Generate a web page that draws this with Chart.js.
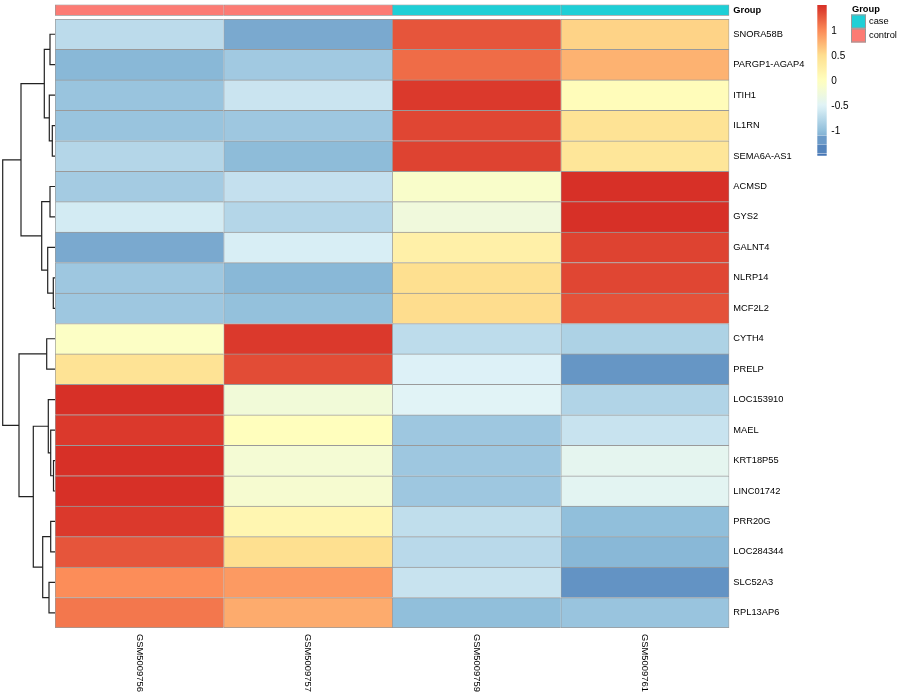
<!DOCTYPE html>
<html><head><meta charset="utf-8">
<script src="https://cdn.jsdelivr.net/npm/chart.js@4/dist/chart.umd.min.js"></script>
<style>
html,body{margin:0;padding:0;background:#fff;}
#wrap{position:relative;width:900px;height:700px;background:#fff;}
canvas{position:absolute;left:0;top:0;}
</style></head><body>
<div id="wrap">
<canvas id="dendro" width="900" height="700"></canvas>
<canvas id="heat" width="900" height="700"></canvas>
<canvas id="annot" width="900" height="700"></canvas>
<canvas id="legend" width="900" height="700"></canvas>
</div>
<script>
// ---------- DATA ----------
const genes = ['SNORA58B','PARGP1-AGAP4','ITIH1','IL1RN','SEMA6A-AS1','ACMSD','GYS2','GALNT4','NLRP14','MCF2L2',
  'CYTH4','PRELP','LOC153910','MAEL','KRT18P55','LINC01742','PRR20G','LOC284344','SLC52A3','RPL13AP6'];
const samples = ['GSM5009756','GSM5009757','GSM5009759','GSM5009761'];
const sampleGroup = ['control','control','case','case'];
const groupLevels = ['case','control'];
const groupColors = ['#1ECFD6','#FC7B74'];

// row z-scores, one array per sample (same order as genes)
const GSM5009756 = [-0.73,-1.05,-0.95,-0.95,-0.78,-0.88,-0.58,-1.15,-0.92,-0.92,-0.05,0.45,1.5,1.45,1.5,1.5,1.45,1.3,1.0,1.12];
const GSM5009757 = [-1.15,-0.9,-0.64,-0.92,-1.02,-0.68,-0.78,-0.55,-1.05,-0.98,1.45,1.35,-0.22,0.02,-0.18,-0.15,0.15,0.5,0.92,0.82];
const GSM5009759 = [1.3,1.18,1.45,1.38,1.4,-0.1,-0.25,0.25,0.5,0.52,-0.72,-0.52,-0.48,-0.92,-0.92,-0.92,-0.7,-0.75,-0.65,-1.0];
const GSM5009761 = [0.58,0.78,0.05,0.45,0.4,1.5,1.5,1.4,1.38,1.32,-0.82,-1.28,-0.8,-0.65,-0.42,-0.45,-1.0,-1.05,-1.3,-0.95];
const sampleValues = [GSM5009756, GSM5009757, GSM5009759, GSM5009761];

// row dendrogram, R hclust style: negative = leaf (1-based row), positive = earlier merge
const mergeLeft   = [-1,-4,-3, 1,-6,-9,-8, 5, 4,-11,-15,-14,-13,-17,-19,14,13,10, 9];
const mergeRight  = [-2,-5, 2, 3,-7,-10, 6, 7, 8,-12,-16, 11, 12,-18,-20,15,16,17,18];
const mergeHeight = [5,2.7,5.7,10.7,5,1.7,7.3,13.3,34,8.3,1.5,4.3,6.7,4.3,6,12.3,21.7,36,52.3];

const legendTicks = [-1,-0.5,0,0.5,1];

// ---------- helpers ----------
const FONT = '"Liberation Sans", Arial, Helvetica, sans-serif';
const palette = ['#4575B4','#91BFDB','#E0F3F8','#FFFFBF','#FEE090','#FC8D59','#D73027'];
const vMin = -1.5, vMax = 1.5;
function hex2rgb(h){return [parseInt(h.slice(1,3),16),parseInt(h.slice(3,5),16),parseInt(h.slice(5,7),16)];}
function colorFor(v){
  let t = (v - vMin) / (vMax - vMin); t = Math.max(0, Math.min(1, t));
  const p = t * (palette.length - 1); const i = Math.min(palette.length - 2, Math.floor(p)); const f = p - i;
  const a = hex2rgb(palette[i]), b = hex2rgb(palette[i+1]);
  return 'rgb(' + a.map((x,k)=>Math.round(x + (b[k]-x)*f)).join(',') + ')';
}
const GRID = '#9a9a9a';
function fixedRightAxis(width){
  return (s) => { s.width = width; s.paddingTop = 0; s.paddingBottom = 0; };
}

// ---------- heatmap ----------
const colLabelPlugin = {
  id: 'colLabels',
  afterDraw(chart){
    const ctx = chart.ctx, xs = chart.scales.x, ca = chart.chartArea;
    ctx.save();
    ctx.fillStyle = '#000'; ctx.font = '9.4px ' + FONT;
    ctx.textAlign = 'left'; ctx.textBaseline = 'middle';
    samples.forEach((s, c) => {
      const x = xs.getPixelForValue(c + 0.5);
      ctx.save(); ctx.translate(x, ca.bottom + 6); ctx.rotate(Math.PI/2);
      ctx.fillText(s, 0, 0); ctx.restore();
    });
    ctx.restore();
  }
};
new Chart(document.getElementById('heat'), {
  type: 'bar',
  data: {
    labels: genes,
    datasets: samples.map((s, c) => ({
      label: s,
      data: genes.map(() => [c, c + 1]),
      backgroundColor: sampleValues[c].map(colorFor),
      borderColor: GRID,
      borderWidth: (ctx) => ({left: 1, top: 1, right: c === samples.length - 1 ? 1 : 0,
        bottom: ctx.dataIndex === genes.length - 1 ? 1 : 0}),
      borderSkipped: false, grouped: false, barPercentage: 1, categoryPercentage: 1
    }))
  },
  options: {
    indexAxis: 'y', responsive: false, animation: false, devicePixelRatio: 1,
    layout: {padding: {left: 55, top: 19, bottom: 72, right: 0}},
    plugins: {legend: {display: false}, tooltip: {enabled: false}},
    scales: {
      x: {type: 'linear', min: 0, max: samples.length, display: false},
      y: {position: 'right', grid: {display: false, drawTicks: false}, border: {display: false},
          ticks: {padding: 4, color: '#000', font: {family: FONT, size: 9.3}, autoSkip: false},
          afterFit: fixedRightAxis(170.7)}
    }
  },
  plugins: [colLabelPlugin]
});

// ---------- annotation bar ----------
new Chart(document.getElementById('annot'), {
  type: 'bar',
  data: {
    labels: ['Group'],
    datasets: samples.map((s, c) => ({
      label: s,
      data: [[c, c + 1]],
      backgroundColor: groupColors[groupLevels.indexOf(sampleGroup[c])],
      borderColor: GRID,
      borderWidth: {left: 1, top: 1, bottom: 1, right: c === samples.length - 1 ? 1 : 0},
      borderSkipped: false, grouped: false, barPercentage: 1, categoryPercentage: 1
    }))
  },
  options: {
    indexAxis: 'y', responsive: false, animation: false, devicePixelRatio: 1,
    layout: {padding: {left: 55, top: 4.5, bottom: 684.3, right: 0}},
    plugins: {legend: {display: false}, tooltip: {enabled: false}},
    scales: {
      x: {type: 'linear', min: 0, max: samples.length, display: false},
      y: {position: 'right', grid: {display: false, drawTicks: false}, border: {display: false},
          ticks: {padding: 4, color: '#000', font: {family: FONT, size: 9.3, weight: 'bold'}},
          afterFit: fixedRightAxis(170.7)}
    }
  }
});

// ---------- dendrogram ----------
function nodePos(ref){
  if (ref < 0) return {y: -ref - 1 + 0.5, h: 0};
  return nodes[ref - 1];
}
const nodes = [];
const dendroSets = [];
for (let m = 0; m < mergeHeight.length; m++){
  const a = nodePos(mergeLeft[m]), b = nodePos(mergeRight[m]), H = mergeHeight[m];
  nodes.push({y: (a.y + b.y) / 2, h: H});
  dendroSets.push({
    data: [{x: a.h, y: a.y}, {x: H, y: a.y}, {x: H, y: b.y}, {x: b.h, y: b.y}],
    showLine: true, pointRadius: 0, borderColor: '#222222', borderWidth: 1.2, fill: false, clip: false, tension: 0
  });
}
new Chart(document.getElementById('dendro'), {
  type: 'scatter',
  data: {datasets: dendroSets},
  options: {
    responsive: false, animation: false, devicePixelRatio: 1,
    layout: {padding: {left: 2.7, right: 845, top: 19, bottom: 72}},
    plugins: {legend: {display: false}, tooltip: {enabled: false}},
    scales: {
      x: {type: 'linear', min: 0, max: Math.max(...mergeHeight), reverse: true, display: false},
      y: {type: 'linear', min: 0, max: genes.length, reverse: true, display: false}
    }
  }
});

// ---------- legends ----------
const annotLegendPlugin = {
  id: 'annotLegend',
  afterDraw(chart){
    const ctx = chart.ctx;
    ctx.save();
    ctx.fillStyle = '#000'; ctx.textBaseline = 'middle'; ctx.textAlign = 'left';
    ctx.font = 'bold 9.3px ' + FONT;
    ctx.fillText('Group', 852, 9);
    ctx.font = '9.3px ' + FONT;
    groupLevels.forEach((g, i) => {
      const y0 = 14.5 + i * 14;
      ctx.fillStyle = groupColors[i]; ctx.fillRect(851, y0, 15, 14);
      ctx.strokeStyle = GRID; ctx.lineWidth = 1; ctx.strokeRect(851.5, y0 + 0.5, 14, 13);
      ctx.fillStyle = '#000'; ctx.fillText(g, 869, y0 + 7);
    });
    ctx.restore();
  }
};
const legendSegments = [[-1.082, 1.52], [-1.262, -1.102], [-1.437, -1.283], [-1.493, -1.463]];
const legendBlockValues = [null, -1.25, -1.4, -1.5];
new Chart(document.getElementById('legend'), {
  type: 'bar',
  data: {
    labels: ['scale'],
    datasets: legendSegments.map((seg, i) => ({
      data: [seg],
      backgroundColor: (ctx) => {
        if (legendBlockValues[i] !== null) return colorFor(legendBlockValues[i]);
        const ch = ctx.chart; const ys = ch.scales.y;
        if (!ys || !ch.chartArea) return colorFor(0);
        const yTop = ys.getPixelForValue(seg[1]), yBot = ys.getPixelForValue(seg[0]);
        const g = ch.ctx.createLinearGradient(0, yBot, 0, yTop);
        const n = 26;
        for (let k = 0; k <= n; k++){
          const v = seg[0] + (seg[1] - seg[0]) * k / n;
          g.addColorStop(k / n, colorFor(v));
        }
        return g;
      },
      borderWidth: 0, grouped: false, barPercentage: 1, categoryPercentage: 1
    }))
  },
  options: {
    responsive: false, animation: false, devicePixelRatio: 1,
    layout: {padding: {left: 817.3, top: 5, bottom: 542.8, right: 0}},
    plugins: {legend: {display: false}, tooltip: {enabled: false}},
    scales: {
      x: {display: false},
      y: {type: 'linear', min: -1.53, max: 1.52, position: 'right',
          grid: {display: false, drawTicks: false}, border: {display: false},
          afterBuildTicks: (s) => { s.ticks = legendTicks.map(v => ({value: v})); },
          ticks: {padding: 4.6, color: '#000', font: {family: FONT, size: 10}, autoSkip: false,
                  callback: (v) => String(v)},
          afterFit: fixedRightAxis(900 - 826.7)}
    }
  },
  plugins: [annotLegendPlugin]
});
</script>
</body></html>
